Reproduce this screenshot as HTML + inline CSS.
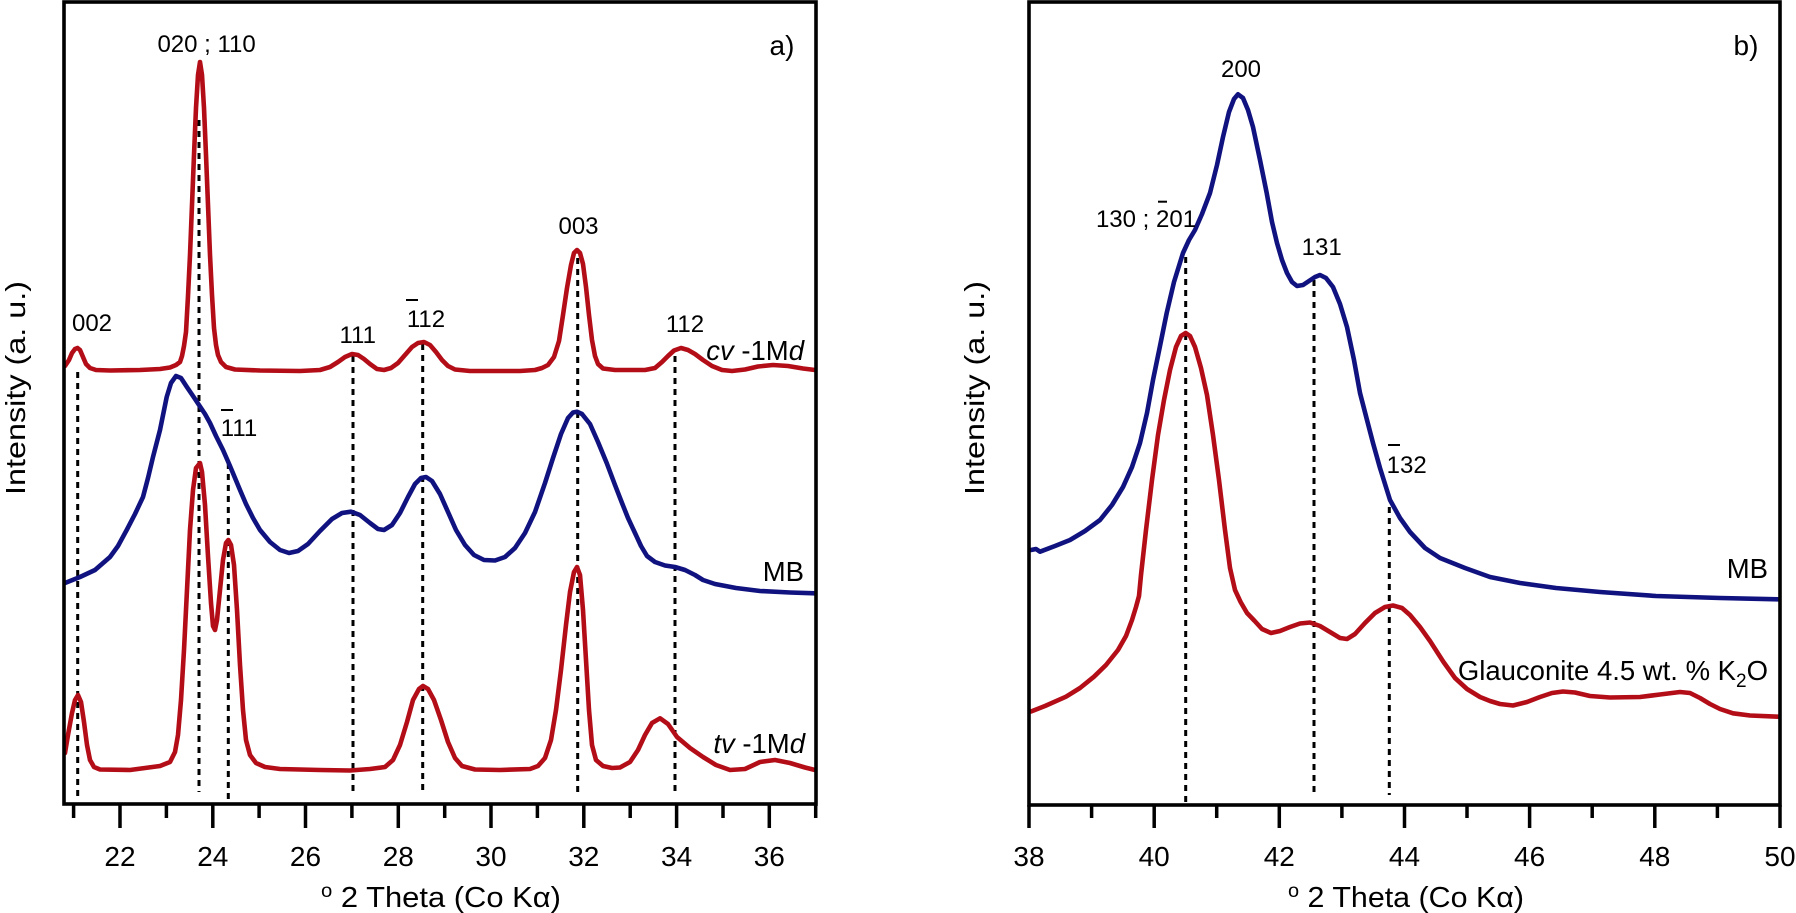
<!DOCTYPE html>
<html>
<head>
<meta charset="utf-8">
<style>
  html,body{margin:0;padding:0;background:#fff;}
  svg{display:block;}
  text{font-family:"Liberation Sans",Arial,sans-serif;fill:#000;}
</style>
</head>
<body>
<svg width="1796" height="913" viewBox="0 0 1796 913" xmlns="http://www.w3.org/2000/svg">
<rect x="0" y="0" width="1796" height="913" fill="#fff"/>

<!-- ================= PANEL A ================= -->
<g stroke="#000" stroke-width="3" stroke-dasharray="6,5" fill="none">
  <line x1="77.7" y1="372" x2="77.7" y2="797"/>
  <line x1="199" y1="120" x2="199" y2="792"/>
  <line x1="228.3" y1="463" x2="228.3" y2="800"/>
  <line x1="353" y1="356" x2="353" y2="795"/>
  <line x1="422.7" y1="344" x2="422.7" y2="795"/>
  <line x1="577.7" y1="258" x2="577.7" y2="795"/>
  <line x1="675" y1="356" x2="675" y2="795"/>
</g>

<path fill="none" stroke="#b30d18" stroke-width="4.6" stroke-linejoin="round" stroke-linecap="round" d="M65,366 L69,360 L72,353 L75,349 L77.5,348 L80,350 L83,357 L86,364 L90,368 L96,370 L110,370.5 L140,370 L160,369 L170,367.5 L176,365 L180,362 L182,356 L184,346 L186,332 L188,296 L190,255 L192,205 L194,155 L196,108 L198,75 L200,62 L202,75 L204,108 L206,155 L208,205 L210,255 L212,295 L214,328 L216,345 L218,355 L221,362 L226,367 L235,369.5 L260,370.5 L300,371 L320,370 L330,367 L338,362 L345,357 L352,354 L358,355 L364,359 L370,364 L377,369 L384,370 L391,368 L398,363 L405,355 L412,347 L418,343 L424,342 L430,345 L436,352 L442,360 L448,366 L455,369.5 L470,371 L520,371 L535,370 L542,368 L548,365 L554,357 L559,341 L563,315 L567,288 L571,265 L574,253 L577,250 L580,253 L583,264 L586,287 L589,315 L592,340 L595,356 L598,364 L603,368.5 L615,370 L645,370 L655,368 L662,362 L668,356 L674,350.5 L681,348 L688,350 L695,354 L703,360 L712,366 L722,370 L732,371 L745,369.5 L758,366.5 L773,365 L788,366 L803,368.5 L815,370"/>

<path fill="none" stroke="#10127f" stroke-width="4.6" stroke-linejoin="round" stroke-linecap="round" d="M65,583 L80,577 L95,570 L110,557 L118,546 L126.7,530 L135,514 L143,497 L148,478 L153,457 L160,430 L166.7,397 L171,383 L176,376 L181,378 L186.7,386.7 L193,396 L199,405 L205,414 L210,423 L216,436 L223,450 L230,466 L235,478 L240,490 L246,504 L253,518 L260,530 L270,542 L280,550 L289,553 L298,551 L308,544 L320,531 L332,519 L342,513 L351,511.7 L360,515 L370,523 L378,529 L384,530 L392,525 L400,513 L408,497 L415,484 L421,478 L426,477 L432,481 L440,494 L448,512 L456,530 L465,545 L474,555 L484,560 L495,560.5 L505,557 L515,548 L525,533 L535,512 L545,483 L553,458 L561,434 L568,418 L573,412.5 L577,411.7 L582,414 L590,424 L598,442 L606.7,463 L615,485 L622,503 L628,518 L635,533 L641,546 L647,556 L655,562 L665,565.5 L675,567 L685,570 L695,575 L703,580 L715,584 L736,588 L760,591 L790,592.5 L815,593.3"/>

<path fill="none" stroke="#b30d18" stroke-width="4.6" stroke-linejoin="round" stroke-linecap="round" d="M65,753 L68,735 L72,713 L75,700 L78,695 L81,702 L84,722 L87,745 L90,760 L94,767 L100,769.5 L130,770 L160,766 L170,762 L175,752 L178,735 L181,700 L184,650 L187,590 L190,530 L193,490 L196,468 L200,463 L202,472 L205,505 L208,556 L211,603 L213,626 L215,630 L217,620 L220,590 L223,560 L226,543 L228.3,540 L231,545 L234,565 L237,610 L240,665 L243,710 L246,740 L250,755 L256,763 L265,767 L280,769 L320,770 L350,770.5 L370,769 L385,767 L393,760 L400,745 L407,722 L413,700 L419,689 L423,686 L428,689 L434,700 L441,720 L448,742 L455,758 L462,766 L475,769.5 L500,770 L530,769 L538,766 L545,758 L551,740 L556,710 L561,670 L566,625 L570,592 L574,572 L577,567 L580,575 L583,610 L586,660 L589,710 L592,745 L596,760 L603,766 L612,768 L620,767.5 L630,762 L638,750 L645,735 L652,723 L660,718.3 L668,724 L677,737 L690,748 L703,757 L716,765 L730,770 L745,769 L760,762 L775,760 L790,763 L805,767.5 L815,770"/>

<rect x="64" y="2" width="752" height="802" fill="none" stroke="#000" stroke-width="3.6"/>
<g stroke="#000" stroke-width="3.5">
  <line x1="120" y1="804" x2="120" y2="828"/>
  <line x1="212.8" y1="804" x2="212.8" y2="828"/>
  <line x1="305.5" y1="804" x2="305.5" y2="828"/>
  <line x1="398.3" y1="804" x2="398.3" y2="828"/>
  <line x1="491" y1="804" x2="491" y2="828"/>
  <line x1="583.8" y1="804" x2="583.8" y2="828"/>
  <line x1="676.6" y1="804" x2="676.6" y2="828"/>
  <line x1="769.3" y1="804" x2="769.3" y2="828"/>
  <line x1="73.6" y1="804" x2="73.6" y2="818"/>
  <line x1="166.4" y1="804" x2="166.4" y2="818"/>
  <line x1="259.1" y1="804" x2="259.1" y2="818"/>
  <line x1="351.9" y1="804" x2="351.9" y2="818"/>
  <line x1="444.7" y1="804" x2="444.7" y2="818"/>
  <line x1="537.4" y1="804" x2="537.4" y2="818"/>
  <line x1="630.2" y1="804" x2="630.2" y2="818"/>
  <line x1="723" y1="804" x2="723" y2="818"/>
  <line x1="815.7" y1="804" x2="815.7" y2="818"/>
</g>
<g font-size="28" text-anchor="middle">
  <text x="120" y="866">22</text>
  <text x="212.8" y="866">24</text>
  <text x="305.5" y="866">26</text>
  <text x="398.3" y="866">28</text>
  <text x="491" y="866">30</text>
  <text x="583.8" y="866">32</text>
  <text x="676.6" y="866">34</text>
  <text x="769.3" y="866">36</text>
</g>
<text x="321" y="907" font-size="29" textLength="240" lengthAdjust="spacingAndGlyphs"><tspan font-size="19" dy="-10">o</tspan><tspan dy="10"> 2 Theta  (Co Kα)</tspan></text>
<text transform="translate(25,388) rotate(-90)" font-size="28" text-anchor="middle" textLength="214" lengthAdjust="spacingAndGlyphs">Intensity (a. u.)</text>

<g font-size="24" text-anchor="middle">
  <text x="206.6" y="52">020 ; 110</text>
  <text x="578.5" y="234">003</text>
  <text x="92" y="331">002</text>
  <text x="357.7" y="343">111</text>
  <text x="426" y="327">112</text>
  <text x="685" y="332">112</text>
  <text x="239" y="436">111</text>
</g>
<g stroke="#000" stroke-width="2">
  <line x1="406" y1="300" x2="418" y2="300"/>
  <line x1="221" y1="410" x2="233" y2="410"/>
</g>
<g font-size="27.5" text-anchor="end">
  <text x="804" y="360"><tspan font-style="italic">cv</tspan> -1M<tspan font-style="italic">d</tspan></text>
  <text x="804" y="581">MB</text>
  <text x="805" y="753"><tspan font-style="italic">tv</tspan> -1M<tspan font-style="italic">d</tspan></text>
</g>
<text x="782" y="55" font-size="28" text-anchor="middle">a)</text>

<!-- ================= PANEL B ================= -->
<g stroke="#000" stroke-width="3" stroke-dasharray="6,5" fill="none">
  <line x1="1185.7" y1="257" x2="1185.7" y2="802"/>
  <line x1="1314" y1="280" x2="1314" y2="795"/>
  <line x1="1389.3" y1="507" x2="1389.3" y2="795"/>
</g>

<path fill="none" stroke="#10127f" stroke-width="4.6" stroke-linejoin="round" stroke-linecap="round" d="M1031,550 L1036,549 L1040,551.7 L1055,546 L1070,540 L1085,531 L1100,520 L1112,505 L1123,487 L1132,467 L1140,443 L1147,413 L1153,380 L1160,346 L1166.7,313 L1174,282 L1183,253 L1189,240 L1195,230 L1202,214 L1210,193 L1217,165 L1223,137 L1229,112 L1234,99 L1238,94.3 L1243,98 L1248,110 L1253,127 L1260,160 L1266.7,193 L1272,222 L1277,243 L1282,260 L1287,273 L1292,282 L1297,286 L1303,285 L1309,281 L1315,277 L1320,275 L1326,278 L1333,287 L1340,304 L1347,327 L1354,360 L1360,393 L1367,420 L1373,443 L1380,468 L1390,500 L1400,518 L1410,532 L1425,548 L1440,558 L1465,568 L1490,577 L1520,583 L1556,588 L1600,592 L1656,596 L1720,598 L1778,599.3"/>

<path fill="none" stroke="#b30d18" stroke-width="4.6" stroke-linejoin="round" stroke-linecap="round" d="M1031,711.5 L1045,706 L1066,696.7 L1080,688 L1094,676.7 L1106,665 L1118,650 L1126,636 L1132,620 L1136,607 L1139,596 L1141,575 L1146,530 L1152,480 L1158,435 L1164,400 L1170,370 L1176,347 L1181,336 L1185.7,333 L1190,336 L1195,347 L1201,368 L1207,395 L1213,435 L1219,480 L1225,530 L1230,568 L1235,590 L1240.6,602 L1247,613 L1254.7,621 L1262,629 L1271,633 L1280,631 L1290,627 L1300,623.5 L1310,622.5 L1320,626 L1330,632 L1340,638 L1347,639 L1355,634 L1365,623 L1375,613 L1385,607 L1393,605.5 L1402,608 L1410,615 L1420,627 L1430,641 L1443.5,662 L1455,678 L1467,689 L1480,697 L1490,701 L1500,704 L1513,705.5 L1527,702 L1540,697 L1552,693 L1563,691.5 L1575,692.5 L1590,696 L1610,697.5 L1640,697 L1660,694.5 L1680,692 L1690,693 L1700,698 L1710,704 L1720,709 L1733,713.3 L1750,715.5 L1778,716.7"/>

<rect x="1029" y="2" width="751" height="803" fill="none" stroke="#000" stroke-width="3.6"/>
<g stroke="#000" stroke-width="3.5">
  <line x1="1029" y1="805" x2="1029" y2="828"/>
  <line x1="1154.2" y1="805" x2="1154.2" y2="828"/>
  <line x1="1279.3" y1="805" x2="1279.3" y2="828"/>
  <line x1="1404.5" y1="805" x2="1404.5" y2="828"/>
  <line x1="1529.6" y1="805" x2="1529.6" y2="828"/>
  <line x1="1654.8" y1="805" x2="1654.8" y2="828"/>
  <line x1="1780" y1="805" x2="1780" y2="828"/>
  <line x1="1091.6" y1="805" x2="1091.6" y2="818"/>
  <line x1="1216.7" y1="805" x2="1216.7" y2="818"/>
  <line x1="1341.9" y1="805" x2="1341.9" y2="818"/>
  <line x1="1467" y1="805" x2="1467" y2="818"/>
  <line x1="1592.2" y1="805" x2="1592.2" y2="818"/>
  <line x1="1717.4" y1="805" x2="1717.4" y2="818"/>
</g>
<g font-size="28" text-anchor="middle">
  <text x="1029" y="866">38</text>
  <text x="1154.2" y="866">40</text>
  <text x="1279.3" y="866">42</text>
  <text x="1404.5" y="866">44</text>
  <text x="1529.6" y="866">46</text>
  <text x="1654.8" y="866">48</text>
  <text x="1780" y="866">50</text>
</g>
<text x="1288" y="907" font-size="29" textLength="236" lengthAdjust="spacingAndGlyphs"><tspan font-size="19" dy="-10">o</tspan><tspan dy="10"> 2 Theta (Co Kα)</tspan></text>
<text transform="translate(984,388) rotate(-90)" font-size="28" text-anchor="middle" textLength="214" lengthAdjust="spacingAndGlyphs">Intensity (a. u.)</text>

<g font-size="24" text-anchor="middle">
  <text x="1241" y="77">200</text>
  <text x="1146" y="227">130 ; 201</text>
  <text x="1321.7" y="255">131</text>
  <text x="1406.7" y="473">132</text>
</g>
<g stroke="#000" stroke-width="2">
  <line x1="1158" y1="201.7" x2="1167" y2="201.7"/>
  <line x1="1388" y1="445" x2="1400" y2="445"/>
</g>
<text x="1768" y="578" font-size="27.5" text-anchor="end">MB</text>
<text x="1768" y="680" font-size="27.5" text-anchor="end">Glauconite 4.5 wt. % K<tspan font-size="19" dy="7">2</tspan><tspan dy="-7">O</tspan></text>
<text x="1746" y="55" font-size="28" text-anchor="middle">b)</text>
</svg>
</body>
</html>
